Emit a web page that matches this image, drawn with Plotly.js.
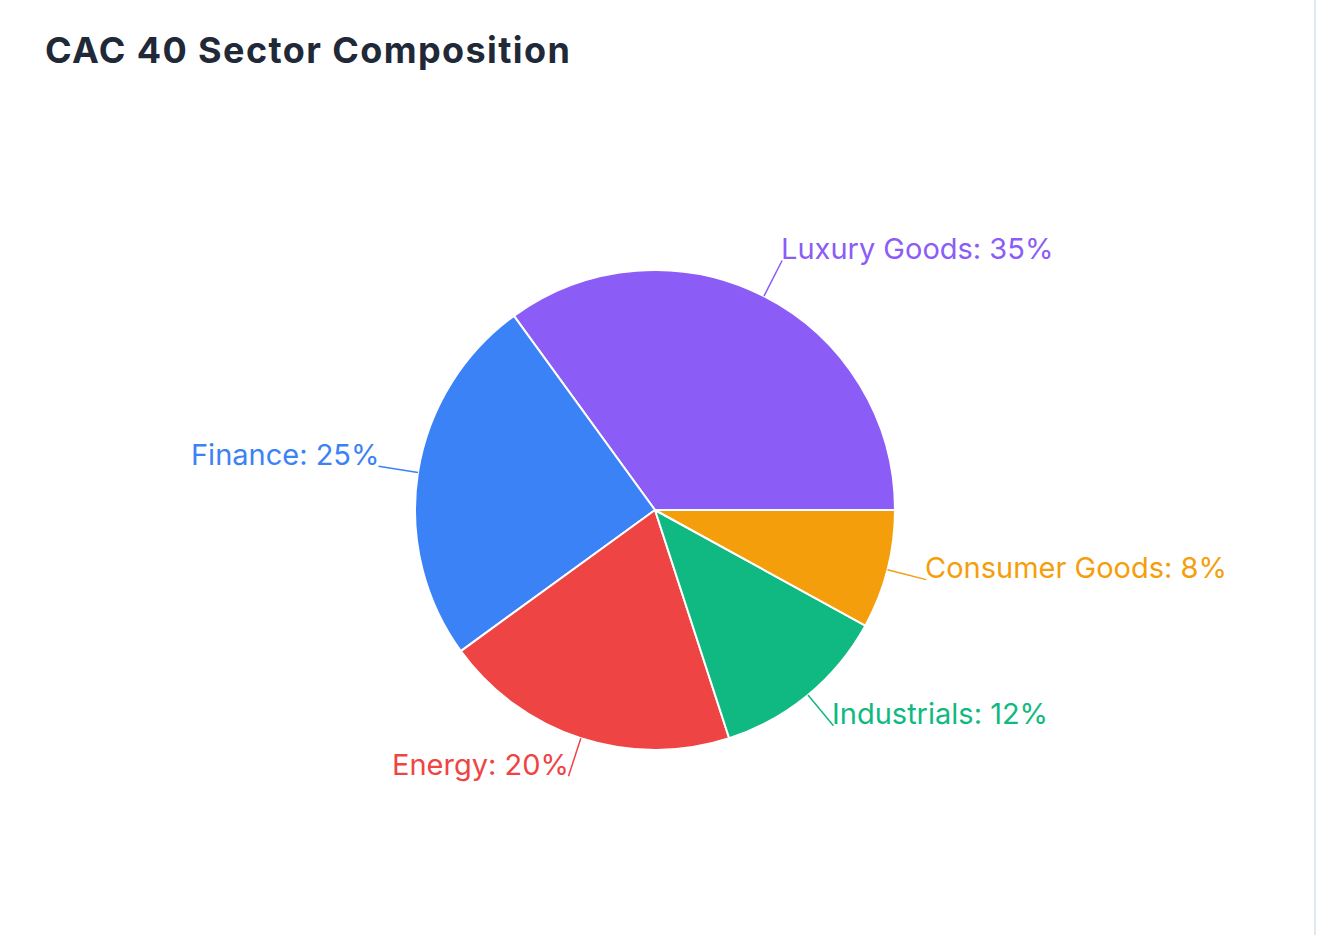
<!DOCTYPE html>
<html>
<head>
<meta charset="utf-8">
<script src="https://cdn.plot.ly/plotly-3.0.1.min.js"></script>
<style>
  html, body { margin: 0; padding: 0; background: #ffffff; }
  #myDiv { width: 1325px; height: 935px; }
  #myDiv .gtitle { letter-spacing: 1.4px; }
</style>
</head>
<body>
<div id="myDiv"></div>
<script>
// sector shares (%)
var sectors = ['Luxury Goods', 'Finance', 'Energy', 'Industrials', 'Consumer Goods'];
var shares = [35, 25, 20, 12, 8];
var colors = ['#8b5cf6', '#3b82f6', '#ef4444', '#10b981', '#f59e0b'];

var W = 1325, H = 935;
var cx = 655, cy = 510, R = 240;   // pie centre and radius in px
var lineLen = 40;

const px = (x) => x / W;
const py = (y) => (H - y) / H;

var total = shares.reduce((a, b) => a + b, 0);

// leader lines and labels, placed from each slice's mid angle
var shapes = [], annotations = [];
var start = 0;
shares.forEach(function(v, i) {
	var mid = (start + v / 2) / total * 2 * Math.PI;
	start += v;
	var c = Math.cos(mid), s = Math.sin(mid);
	var x0 = cx + R * c, y0 = cy - R * s;
	var x1 = cx + (R + lineLen) * c, y1 = cy - (R + lineLen) * s;
	shapes.push({
		type: 'line', xref: 'paper', yref: 'paper',
		x0: px(x0), y0: py(y0), x1: px(x1), y1: py(y1),
		line: {color: colors[i], width: 1.5}
	});
	annotations.push({
		xref: 'paper', yref: 'paper',
		x: px(x1), y: py(y1 - 12),
		xanchor: c >= 0 ? 'left' : 'right', yanchor: 'middle',
		xshift: c >= 0 ? -2 : 2,
		borderpad: 0,
		text: sectors[i] + ': ' + v + '%',
		showarrow: false,
		font: {family: 'Inter, "Noto Sans", sans-serif', size: 29, color: colors[i]}
	});
});

// thin border on the right edge of the card
shapes.push({
	type: 'line', xref: 'paper', yref: 'paper',
	x0: px(1315), x1: px(1315), y0: 0, y1: 1,
	line: {color: '#e2e8f0', width: 2}
});

var data = [{
	type: 'pie',
	labels: sectors,
	values: shares,
	sort: false,
	direction: 'counterclockwise',
	rotation: -36,
	textinfo: 'none',
	hoverinfo: 'label+percent',
	marker: {colors: colors, line: {color: '#ffffff', width: 2}},
	domain: {x: [px(cx - R), px(cx + R)], y: [py(cy + R), py(cy - R)]}
}];

var layout = {
	width: W, height: H,
	margin: {l: 0, r: 0, t: 0, b: 0},
	paper_bgcolor: '#ffffff',
	showlegend: false,
	title: {
		text: '<b>CAC 40 Sector Composition</b>',
		x: px(45), xanchor: 'left',
		y: py(50), yanchor: 'middle',
		font: {family: 'Inter, "Noto Sans", sans-serif', size: 36, color: '#1f2937'}
	},
	shapes: shapes,
	annotations: annotations
};

Plotly.newPlot('myDiv', data, layout, {displayModeBar: false, responsive: false});
</script>
</body>
</html>
